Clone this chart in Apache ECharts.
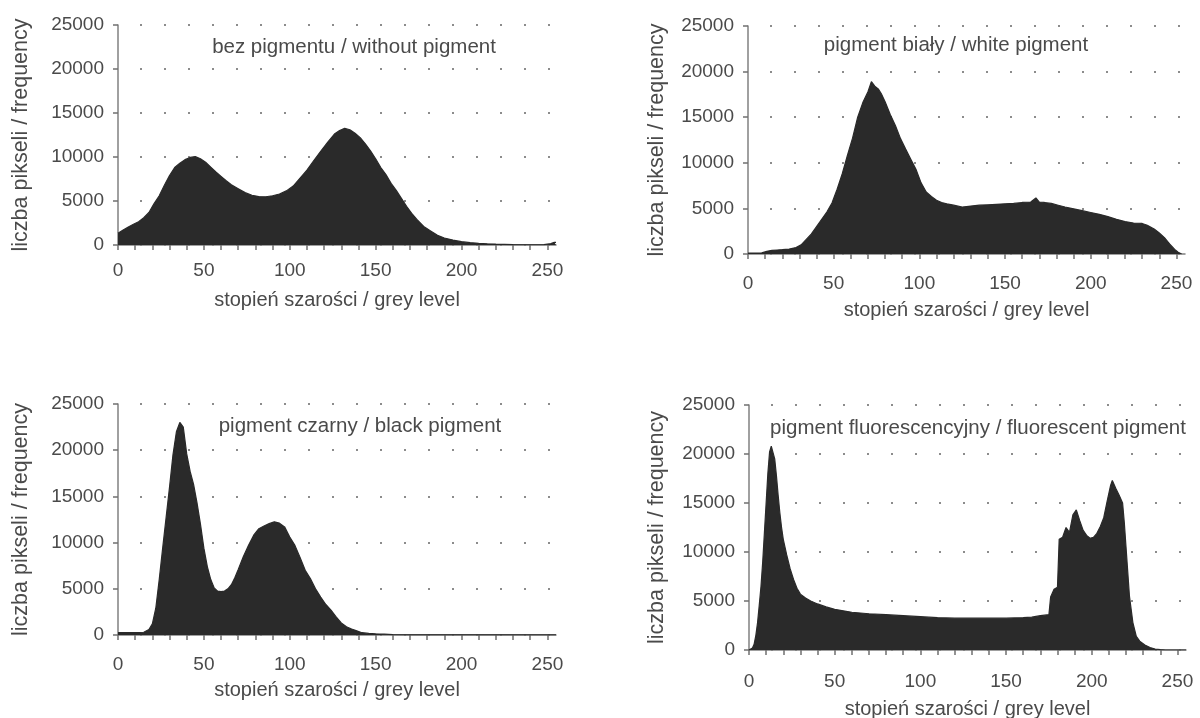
<!DOCTYPE html>
<html>
<head>
<meta charset="utf-8">
<script src="https://cdn.jsdelivr.net/npm/echarts@6/dist/echarts.min.js"></script>
<style>
html,body{margin:0;padding:0;background:#fff;}
#chart{width:1200px;height:718px;}
</style>
</head>
<body>
<div id="chart"></div>
<script>
// ---- data ----
const xTickLabels = [0, 50, 100, 150, 200, 250];
const yTickLabels = [0, 5000, 10000, 15000, 20000, 25000];

const titles = [
  'bez pigmentu / without pigment',
  'pigment biały / white pigment',
  'pigment czarny / black pigment',
  'pigment fluorescencyjny / fluorescent pigment'
];
const xAxisName = 'stopień szarości / grey level';
const yAxisName = 'liczba pikseli / frequency';

// without pigment
const levelsNone = [0,3,6,9,12,15,18,21,24,27,
  30,33,36,39,42,45,48,51,54,57,
  60,63,66,70,74,78,82,86,90,94,
  98,102,106,110,114,118,122,126,129,132,
  135,138,141,144,147,150,153,156,159,162,
  165,168,171,174,178,182,186,190,195,200,
  205,210,215,220,230,240,248,252,254,255];
const freqNone = [1330,1700,2050,2350,2650,3100,3700,4700,5600,6800,
  7900,8800,9300,9700,9950,10050,9800,9400,8850,8300,
  7800,7300,6850,6400,5950,5650,5500,5480,5600,5800,
  6150,6700,7600,8500,9600,10650,11650,12600,13000,13250,
  13100,12700,12200,11500,10700,9800,8800,8000,7000,6200,
  5300,4400,3600,2900,2100,1600,1100,800,560,380,
  260,190,140,100,50,30,40,150,300,300];

// white pigment
const levelsWhite = [0,4,8,11,14,17,20,24,28,31,
  34,37,40,43,46,49,52,55,58,61,
  64,67,70,72,74,76,78,80,83,86,
  89,92,95,98,101,104,107,110,113,116,
  120,125,130,135,140,145,150,155,160,165,
  168,170,173,177,181,185,190,195,200,205,
  210,215,220,225,230,233,237,240,243,246,
  249,251,253];
const freqWhite = [100,100,120,290,400,440,480,540,700,1000,
  1600,2200,3000,3800,4600,5600,7100,8800,10800,12700,
  15000,16600,17800,18900,18400,18100,17500,16700,15300,14100,
  12650,11500,10400,9300,7800,6800,6300,5900,5650,5500,
  5350,5150,5250,5350,5400,5450,5500,5550,5650,5700,
  6150,5700,5650,5550,5350,5150,4950,4750,4550,4350,
  4100,3800,3550,3400,3350,3150,2750,2300,1800,1100,
  500,200,0];

// black pigment
const levelsBlack = [0,5,10,15,18,20,22,24,26,28,
  30,32,34,36,37,38,40,42,44,46,
  48,50,52,54,56,58,60,62,64,66,
  68,70,73,76,79,82,85,88,91,94,
  97,100,103,106,109,112,115,118,121,124,
  127,130,133,136,139,142,146,150,155,160,
  170,200,255];
const freqBlack = [250,250,250,300,600,1200,2900,6000,9400,12700,
  16000,19500,22000,23000,23100,22500,19600,17700,16300,14300,
  12000,9400,7400,6000,5100,4750,4700,4750,5000,5450,
  6200,7100,8500,9700,10800,11500,11800,12050,12250,12100,
  11700,10600,9700,8400,7000,6100,5000,4100,3300,2700,
  1950,1300,900,650,450,250,170,130,90,40,
  20,20,20];

// fluorescent pigment
const levelsFluo = [0,2,3,4,5,6,7,8,9,10,
  11,12,13,14,15,16,17,18,19,20,
  22,24,26,28,30,33,36,40,45,50,
  55,60,70,80,90,100,110,120,130,140,
  150,160,165,170,175,176,178,180,181,183,
  185,187,189,191,193,195,197,199,201,203,
  205,207,209,211,212,214,216,218,219,220,
  221,222,224,226,228,231,234,237,240,243,
  250,255];
const freqFluo = [0,200,600,1500,2800,4600,6500,9000,12000,15000,
  18000,20200,20800,20600,19500,17800,15800,14000,12500,11300,
  9700,8300,7200,6300,5700,5300,5000,4700,4400,4150,
  4000,3850,3700,3600,3500,3400,3300,3250,3250,3250,
  3250,3300,3350,3500,3600,5400,6200,6400,11300,11500,
  12500,12000,13800,14300,13200,12200,11700,11400,11500,11900,
  12600,13500,15200,16800,17300,16500,15800,15000,13000,10500,
  8000,5500,2800,1400,900,500,250,100,30,0,
  0,0];

// ---- layout / style ----
const FONT = '"Liberation Sans", Arial, sans-serif';
const TXT = '#4a4a4a';
const FILL = '#2a2a2a';

const panels = [
  {levels: levelsNone,  freq: freqNone,  grid:{left:118,top:25,width:438,height:220}, lm:16, xg:45, yg:86, title:[354,47]},
  {levels: levelsWhite, freq: freqWhite, grid:{left:748,top:26,width:437,height:228}, lm:20, xg:46, yg:80, title:[956,45]},
  {levels: levelsBlack, freq: freqBlack, grid:{left:118,top:404,width:438,height:231}, lm:20, xg:45, yg:86, title:[360,426]},
  {levels: levelsFluo,  freq: freqFluo,  grid:{left:749,top:405,width:437,height:245}, lm:22, xg:49, yg:81, title:[978,428]}
];

const zip = (a, b) => a.map((v, i) => [v, b[i]]);

const option = {
  backgroundColor: '#ffffff',
  animation: false,
  grid: panels.map(p => Object.assign({outerBoundsMode: 'none', containLabel: false}, p.grid)),
  xAxis: panels.map((p, i) => ({
    type: 'value', gridIndex: i, min: 0, max: 255, interval: 10,
    name: xAxisName, nameLocation: 'middle', nameGap: p.xg,
    nameTextStyle: {fontFamily: FONT, fontSize: 20, color: TXT},
    axisLine: {show: true, lineStyle: {color: '#808080', width: 1.5}},
    axisTick: {show: true, interval: 0, length: 5, lineStyle: {color: '#707070', width: 1.5}},
    axisLabel: {
      interval: 0, hideOverlap: false,
      fontFamily: FONT, fontSize: 19, color: TXT, margin: p.lm,
      showMaxLabel: false,
      formatter: v => (xTickLabels.indexOf(v) >= 0 ? String(v) : '')
    },
    splitLine: {show: false}
  })),
  yAxis: panels.map((p, i) => ({
    type: 'value', gridIndex: i, min: 0, max: 25000, interval: 5000,
    name: yAxisName, nameLocation: 'middle', nameGap: p.yg,
    nameTextStyle: {fontFamily: FONT, fontSize: 21.5, color: TXT},
    axisLine: {show: true, lineStyle: {color: '#808080', width: 1.5}},
    axisTick: {show: true, length: 5, lineStyle: {color: '#707070', width: 1.5}},
    axisLabel: {
      fontFamily: FONT, fontSize: 19, color: TXT, margin: 14,
      formatter: v => (yTickLabels.indexOf(v) >= 0 ? String(v) : '')
    },
    splitLine: {show: true, lineStyle: {color: '#8c8c8c', width: 2.2, type: [2, 22], dashOffset: -22}}
  })),
  series: panels.map((p, i) => ({
    type: 'line', xAxisIndex: i, yAxisIndex: i,
    data: zip(p.levels, p.freq),
    showSymbol: false, symbol: 'none', smooth: false,
    lineStyle: {color: FILL, width: 1.2},
    areaStyle: {color: FILL, opacity: 1},
    z: 3
  })),
  graphic: panels.map((p, i) => ({
    type: 'text', x: p.title[0], y: p.title[1], z: 10,
    style: {text: titles[i], fill: TXT, font: '20.5px ' + FONT, align: 'center', verticalAlign: 'middle'}
  }))
};

const chart = echarts.init(document.getElementById('chart'), null, {renderer: 'canvas'});
chart.setOption(option);
</script>
</body>
</html>
